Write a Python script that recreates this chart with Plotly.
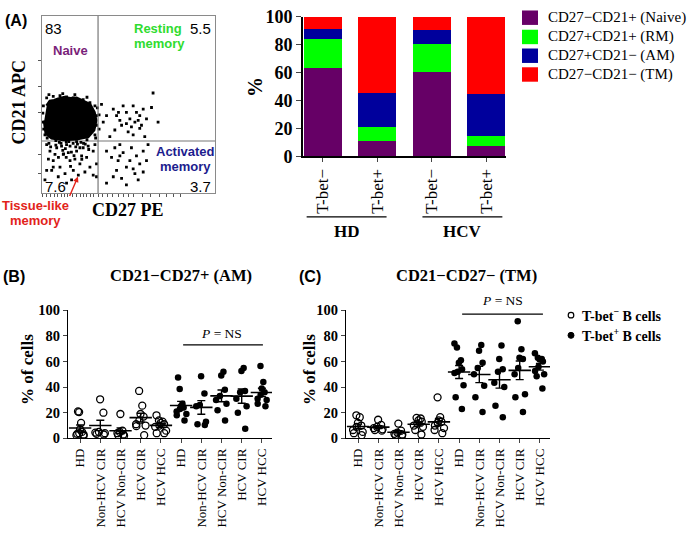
import numpy as np
import plotly.graph_objects as go

W, H = 692, 534
SERIF = "Liberation Serif, Times New Roman, serif"
SANS = "Liberation Sans, Arial, sans-serif"


def fx(p):
    return p / W


def fy(p):
    return 1 - p / H


# ---------------- Panel A: flow cytometry dot plot (arbitrary log units 0-100)
blob_cd27 = [2.7, 4.6, 7.0, 9.4, 13.0, 16.2, 20.0, 22.9, 27.7, 30.2, 31.2, 30.0, 26.7, 20.0, 12.3, 5.6, 2.3, 1.3]
blob_cd21 = [49.1, 51.8, 52.2, 53.1, 54.0, 53.3, 53.6, 52.4, 50.0, 45.5, 40.9, 35.5, 31.8, 30.4, 30.0, 30.9, 33.6, 40.9]

flow_cd27 = [
    34.4, 37.3, 41.2, 43.1, 45.0, 46.9, 48.8, 50.8, 52.7, 53.7, 54.6, 56.5, 58.5, 60.4, 63.3, 64.2, 67.1,
    42.1, 46.0, 49.8, 52.7, 56.5, 59.4, 39.2, 35.4, 51.7, 55.6, 57.5, 48.8, 44.2,
    37.3, 40.2, 42.1, 44.0, 45.0, 46.9, 48.8, 50.8, 51.7, 53.7, 54.6, 56.5, 58.5, 60.4, 55.6, 48.8, 37.3,
    43.1, 46.0, 52.7, 58.5, 41.2, 61.3, 45.0,
    2.7, 4.6, 6.5, 8.5, 10.4, 12.3, 14.2, 16.2, 18.1, 20.0, 21.9, 23.8, 25.8, 27.7, 29.6, 31.5, 5.6, 9.4,
    13.3, 17.1, 21.0, 24.8, 3.7, 7.5, 11.3, 15.2, 19.0, 22.9, 26.7, 30.6, 2.7, 14.2, 1.7, 29.6, 31.5, 6.5,
    21.9, 16.2, 12.0, 18.0, 14.0, 20.5, 10.0, 24.0,
    11.0, 13.5, 15.5, 17.0, 19.5, 22.5, 25.0, 8.0, 5.0, 27.0, 12.5, 18.5, 23.0, 9.5, 16.5, 4.0,
    2.7, 6.5, 10.4, 14.2, 18.1, 23.8, 27.7, 30.6, 31.5, 31.5, 30.6, 1.7, 0.8, 0.8,
    0.5, 1.0, 3.0, 8.0, 14.0, 20.0, 26.0, 31.0, 33.0, 33.0, 32.0, 4.0, 12.0, 19.0, 26.0,
]
flow_cd21 = [
    50.0, 43.6, 47.3, 43.6, 40.9, 49.1, 45.5, 41.8, 49.1, 40.0, 45.5, 43.6, 47.3, 41.8, 48.2, 56.4, 40.0,
    35.5, 38.2, 34.5, 32.7, 36.4, 31.8, 31.8, 40.0, 37.3, 40.9, 38.2, 39.1, 45.5,
    23.6, 20.0, 25.5, 18.2, 27.3, 22.7, 14.5, 18.2, 25.5, 10.9, 20.9, 16.4, 23.6, 18.2, 7.3, 4.5, 5.5,
    12.7, 8.2, 13.6, 11.8, 9.1, 27.3, 20.9,
    27.3, 23.6, 18.2, 25.5, 14.5, 21.8, 27.3, 18.2, 12.7, 23.6, 16.4, 25.5, 20.0, 14.5, 23.6, 16.4, 12.7, 9.1,
    10.9, 7.3, 10.0, 11.8, 19.1, 21.8, 26.4, 22.7, 19.1, 20.9, 26.4, 27.3, 12.7, 5.5, 7.3, 10.0, 9.1, 14.5,
    25.5, 26.4, 24.0, 28.0, 20.0, 27.5, 28.5, 28.0,
    28.0, 25.0, 29.0, 23.0, 26.0, 28.5, 27.5, 27.0, 26.0, 24.5, 22.0, 21.0, 19.0, 20.0, 15.0, 28.0,
    53.6, 54.5, 54.9, 54.2, 53.6, 52.7, 50.9, 49.1, 43.6, 38.2, 32.7, 32.7, 40.0, 49.1,
    45.0, 36.0, 31.0, 29.5, 28.8, 29.0, 30.0, 31.0, 36.0, 44.0, 48.0, 55.5, 56.0, 55.5, 54.0,
]
gate_cd27 = 32.4
gate_cd21 = 29.3
quadrant_pct = ["83", "5.5", "7.6", "3.7"]

# ---------------- Panel A: stacked bars (% of B cells)
bar_groups = ["HD", "HCV"]
bar_labels = ["T-bet−", "T-bet+", "T-bet−", "T-bet+"]
subset_names = ["CD27−CD21+ (Naive)", "CD27+CD21+ (RM)", "CD27+CD21− (AM)", "CD27−CD21− (TM)"]
naive_pct = [63.0, 11.0, 60.5, 7.5]
rm_pct = [21.0, 10.0, 20.0, 7.0]
am_pct = [7.5, 24.0, 10.0, 30.0]
tm_pct = [8.5, 55.0, 9.5, 55.5]
subset_colors = ["#660066", "#00ff00", "#00009c", "#ff0000"]

# ---------------- Panels B and C: % of cells per cohort
cohorts = ["HD", "Non-HCV CIR", "HCV Non-CIR", "HCV CIR", "HCV HCC"]
am_tbet_neg = [
    [21, 20.5, 12, 7, 5, 4, 3, 2, 3.5, 2.5],
    [30.5, 20, 5, 4.5, 4, 3.5, 3],
    [19, 6, 5, 4, 3, 2.5, 2],
    [37, 25.5, 19, 17, 14, 11, 10, 9.5, 2.5],
    [18, 14, 13, 12, 11, 10, 9, 6, 4, 4],
]
am_tbet_pos = [
    [47.5, 38.5, 27, 25, 24, 23, 21, 19, 18, 14],
    [48.5, 35, 26, 25, 13, 11, 10.5],
    [52, 49, 38, 33, 30, 27, 22, 14],
    [55, 52.5, 37, 36, 31, 25, 20, 7.5],
    [56.5, 44, 39, 36, 34, 31, 30, 27, 25],
]
tm_tbet_neg = [
    [18, 16.5, 12, 10, 9, 6.5, 5, 4, 2.5],
    [14.5, 10.5, 9, 8, 7, 6.5, 6],
    [11.5, 6, 4.5, 3.5, 3, 2.5, 2],
    [16, 15.5, 14, 13, 11.5, 10, 9, 6.5, 3],
    [32, 16.5, 14, 13, 12, 10, 8, 6.5, 4],
]
tm_tbet_pos = [
    [74, 71, 61, 59, 54, 52, 51, 41.5, 32, 23],
    [73, 68.5, 59, 55, 50, 41, 32, 20.5],
    [72.5, 62, 54, 52, 43.5, 40, 25.5, 16.5],
    [91.5, 69.5, 63, 62, 55, 50, 34.5, 32, 20.5],
    [66.5, 63, 62, 61.5, 60, 56, 52.5, 50, 48.5, 39],
]
yticks_pct = [0, 20, 40, 60, 80, 100]

fig = go.Figure()

# ---- flow plot
fig.add_trace(go.Scatter(x=blob_cd27, y=blob_cd21, mode="lines", fill="toself",
                         fillcolor="black", line=dict(color="black", width=3),
                         xaxis="x", yaxis="y", showlegend=False, hoverinfo="skip"))
fig.add_trace(go.Scatter(x=flow_cd27, y=flow_cd21, mode="markers",
                         marker=dict(symbol="square", size=2.8, color="black"),
                         xaxis="x", yaxis="y", showlegend=False, hoverinfo="skip"))

# ---- stacked bars
bar_x = list(range(len(bar_labels)))
for name, vals, col in zip(subset_names, [naive_pct, rm_pct, am_pct, tm_pct], subset_colors):
    fig.add_trace(go.Bar(x=bar_x, y=vals, name=name, marker=dict(color=col, line=dict(width=0)),
                         width=0.7, xaxis="x2", yaxis="y2", showlegend=False))

# ---- dot plots
def add_dots(neg, pos, xa, ya):
    groups = [(neg, "open"), (pos, "filled")]
    idx = 0
    for data, kind in groups:
        for vals in data:
            if kind == "open":
                mk = dict(symbol="circle-open", size=7, color="black", line=dict(width=1.3, color="black"))
            else:
                mk = dict(symbol="circle", size=6.5, color="black")
            fig.add_trace(go.Box(x=[idx] * len(vals), y=vals, boxpoints="all", jitter=0.9, pointpos=0,
                                 width=0.75, marker=mk, line=dict(width=0, color="rgba(0,0,0,0)"),
                                 fillcolor="rgba(0,0,0,0)", xaxis=xa, yaxis=ya, showlegend=False,
                                 hoverinfo="y"))
            m = float(np.mean(vals))
            sem = float(np.std(vals, ddof=1) / np.sqrt(len(vals)))
            fig.add_trace(go.Scatter(x=[idx], y=[m], mode="markers",
                                     marker=dict(symbol="line-ew", size=16,
                                                 line=dict(width=1.6, color="black")),
                                     error_y=dict(type="data", array=[sem], visible=True,
                                                  color="black", thickness=1.4, width=4),
                                     xaxis=xa, yaxis=ya, showlegend=False, hoverinfo="skip"))
            idx += 1


add_dots(am_tbet_neg, am_tbet_pos, "x3", "y3")
add_dots(tm_tbet_neg, tm_tbet_pos, "x4", "y4")

cat_labels = cohorts + cohorts

flow_bottom_ticks = [0, 2.5, 5, 7, 9, 11, 13, 15, 17.5, 20, 22, 24, 26, 28, 30, 32.4, 35, 38, 41, 44,
                     47, 50, 53, 58, 63, 68, 72, 76, 80]
flow_left_ticks = [10.9, 21.7, 45.3, 60, 75]

axis_common = dict(showgrid=False, zeroline=False)
fig.update_layout(
    width=W, height=H, margin=dict(l=0, r=0, t=0, b=0),
    paper_bgcolor="white", plot_bgcolor="white",
    barmode="stack", boxmode="overlay", showlegend=False,
    xaxis=dict(domain=[fx(42), fx(215)], range=[0, 100], anchor="y", showline=True, mirror=True,
               linecolor="#8a8a8a", linewidth=1.2, ticks="outside", ticklen=3, tickcolor="#555",
               tickvals=flow_bottom_ticks, showticklabels=False, **axis_common),
    yaxis=dict(domain=[fy(190), fy(6)], range=[0, 100], anchor="x", showline=True, mirror=True,
               linecolor="#8a8a8a", linewidth=1.2, ticks="outside", ticklen=3, tickcolor="#555",
               tickvals=flow_left_ticks, showticklabels=False, **axis_common),
    xaxis2=dict(domain=[fx(303), fx(506)], range=[-0.367, 3.367], anchor="y2", showline=True,
                linecolor="black", linewidth=1.6, ticks="outside", ticklen=4, tickwidth=1.4,
                tickvals=bar_x, ticktext=bar_labels, tickangle=-90,
                tickfont=dict(family=SERIF, size=17, color="black"), **axis_common),
    yaxis2=dict(domain=[fy(152), fy(7)], range=[0, 100], anchor="x2", showline=True,
                linecolor="black", linewidth=1.6, ticks="outside", ticklen=5, tickwidth=1.4,
                tickvals=yticks_pct,
                tickfont=dict(family=SERIF, size=18, color="black", weight="bold"), **axis_common),
    xaxis3=dict(domain=[fx(68), fx(272)], range=[-0.6, 9.5], anchor="y3", showline=True,
                linecolor="black", linewidth=1.3, ticks="outside", ticklen=4, tickwidth=1.2,
                tickvals=list(range(10)), ticktext=cat_labels, tickangle=-90,
                tickfont=dict(family=SERIF, size=13, color="black"), **axis_common),
    yaxis3=dict(domain=[fy(445), fy(312)], range=[0, 100], anchor="x3", showline=True,
                linecolor="black", linewidth=1.3, ticks="outside", ticklen=4, tickwidth=1.2,
                tickvals=yticks_pct,
                tickfont=dict(family=SERIF, size=14.5, color="black", weight="bold"), **axis_common),
    xaxis4=dict(domain=[fx(346), fx(550)], range=[-0.6, 9.5], anchor="y4", showline=True,
                linecolor="black", linewidth=1.3, ticks="outside", ticklen=4, tickwidth=1.2,
                tickvals=list(range(10)), ticktext=cat_labels, tickangle=-90,
                tickfont=dict(family=SERIF, size=13, color="black"), **axis_common),
    yaxis4=dict(domain=[fy(445), fy(312)], range=[0, 100], anchor="x4", showline=True,
                linecolor="black", linewidth=1.3, ticks="outside", ticklen=4, tickwidth=1.2,
                tickvals=yticks_pct,
                tickfont=dict(family=SERIF, size=14.5, color="black", weight="bold"), **axis_common),
)

shapes = []
# gate lines
shapes.append(dict(type="line", xref="x", yref="y", x0=gate_cd27, x1=gate_cd27, y0=0, y1=100,
                   line=dict(color="#777", width=1.2)))
shapes.append(dict(type="line", xref="x", yref="y", x0=gate_cd27, x1=100, y0=gate_cd21, y1=gate_cd21,
                   line=dict(color="#777", width=1.2)))
shapes.append(dict(type="line", xref="x", yref="y", x0=0, x1=gate_cd27, y0=gate_cd21, y1=gate_cd21,
                   line=dict(color="#777", width=1.2), layer="below"))
# group lines under bar chart
shapes.append(dict(type="line", xref="x2", yref="paper", x0=-0.3, x1=1.17, y0=fy(215), y1=fy(215),
                   line=dict(color="black", width=1.3)))
shapes.append(dict(type="line", xref="x2", yref="paper", x0=1.83, x1=3.3, y0=fy(215), y1=fy(215),
                   line=dict(color="black", width=1.3)))
# P = NS lines
shapes.append(dict(type="line", xref="x3", yref="y3", x0=5.1, x1=9.05, y0=73, y1=73,
                   line=dict(color="black", width=1.3)))
shapes.append(dict(type="line", xref="x4", yref="y4", x0=5.15, x1=9.15, y0=97, y1=97,
                   line=dict(color="black", width=1.3)))
# legend squares for bar chart
leg_rows = [8, 28, 47.5, 67]
for r, col in zip(leg_rows, subset_colors):
    shapes.append(dict(type="rect", xref="paper", yref="paper", x0=fx(522), x1=fx(538),
                       y0=fy(r + 7.5), y1=fy(r - 7.5), fillcolor=col, line=dict(width=0)))
# legend circles for panel C
shapes.append(dict(type="circle", xref="paper", yref="paper", xsizemode="pixel", ysizemode="pixel",
                   xanchor=fx(571), yanchor=fy(317), x0=-2.8, x1=2.8, y0=-2.8, y1=2.8,
                   line=dict(color="black", width=1.2), fillcolor="white"))
shapes.append(dict(type="circle", xref="paper", yref="paper", xsizemode="pixel", ysizemode="pixel",
                   xanchor=fx(571), yanchor=fy(338), x0=-3, x1=3, y0=-3, y1=3,
                   line=dict(color="black", width=1), fillcolor="black"))

ann = []


def text(x, y, s, size, family=SERIF, color="black", bold=False, angle=0, xanchor="center"):
    ann.append(dict(x=fx(x), y=fy(y), xref="paper", yref="paper", text=s, showarrow=False,
                    textangle=angle, xanchor=xanchor, yanchor="middle",
                    font=dict(family=family, size=size, color=color, weight="bold" if bold else "normal")))


# panel labels
text(3, 11, "(A)", 16, SANS, bold=True, xanchor="left")
text(1, 277, "(B)", 16, SANS, bold=True, xanchor="left")
text(297, 277, "(C)", 16, SANS, bold=True, xanchor="left")

# flow plot text
text(19, 96, "CD21 APC", 18, SERIF, bold=True, angle=-90)
text(128, 208, "CD27 PE", 18, SERIF, bold=True)
text(43, 19, quadrant_pct[0], 15, SANS, xanchor="left")
text(213, 19, quadrant_pct[1], 15, SANS, xanchor="right")
text(43, 183, quadrant_pct[2], 15, SANS, xanchor="left")
text(213, 183, quadrant_pct[3], 15, SANS, xanchor="right")
text(70, 42, "Naive", 13, SANS, color="#7a1f7a", bold=True)
text(158, 19, "Resting", 13, SANS, color="#2fdc2f", bold=True)
text(159, 35, "memory", 13, SANS, color="#2fdc2f", bold=True)
text(185, 147, "Activated", 13, SANS, color="#1c1c8e", bold=True)
text(185, 163, "memory", 13, SANS, color="#1c1c8e", bold=True)
text(35, 203, "Tissue-like", 13, SANS, color="#e2231a", bold=True)
text(35, 219, "memory", 13, SANS, color="#e2231a", bold=True)
ann.append(dict(x=20.8, y=9.2, xref="x", yref="y", ax=-9, ay=21, text="", showarrow=True,
                arrowhead=2, arrowsize=0.8, arrowwidth=1.4, arrowcolor="#e2231a"))

# bar chart text
text(255, 80, "%", 20, SERIF, bold=True, angle=-90)
text(347, 230, bar_groups[0], 17, SERIF, bold=True)
text(462, 230, bar_groups[1], 17, SERIF, bold=True)
for r, name in zip(leg_rows, subset_names):
    text(546, r, name, 15, SERIF, xanchor="left")

# panel B / C text
text(181, 276, "CD21−CD27+ (AM)", 16.5, SERIF, bold=True)
text(466, 276, "CD21−CD27− (TM)", 16.5, SERIF, bold=True)
text(28, 374, "% of cells", 17, SERIF, bold=True, angle=-90)
text(310, 374, "% of cells", 17, SERIF, bold=True, angle=-90)
text(222, 336, "<i>P</i> = NS", 13.5, SERIF)
text(502, 302, "<i>P</i> = NS", 13.5, SERIF)
text(580, 317, "T-bet<sup>−</sup> B cells", 14, SERIF, bold=True, xanchor="left")
text(580, 338, "T-bet<sup>+</sup> B cells", 14, SERIF, bold=True, xanchor="left")

fig.update_layout(shapes=shapes, annotations=ann)
fig.write_html("out.html", config={"displayModeBar": False},
               post_script="document.body.style.margin='0px';document.body.style.overflow='hidden';")
